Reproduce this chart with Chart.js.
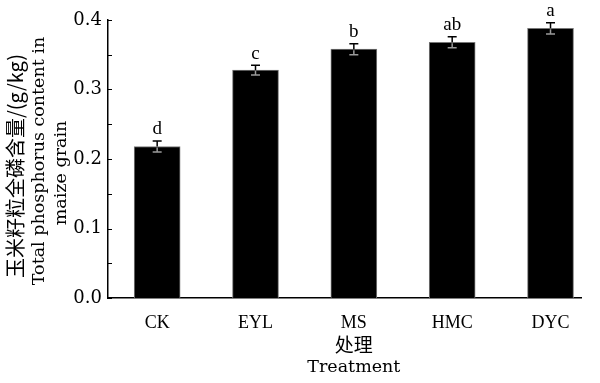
<!DOCTYPE html>
<html>
<head>
<meta charset="utf-8">
<script src="https://cdn.jsdelivr.net/npm/chart.js@4/dist/chart.umd.min.js"></script>
<style>
  html, body { margin: 0; padding: 0; background: #fff; }
  #wrap { width: 600px; height: 383px; }
</style>
</head>
<body>
<div id="wrap"><canvas id="phChart" width="600" height="383"></canvas></div>
<script>
const categories = ['CK', 'EYL', 'MS', 'HMC', 'DYC'];
const phosphorus = [0.218, 0.328, 0.358, 0.368, 0.388];
const errors = [0.008, 0.007, 0.008, 0.008, 0.008];
const letters = ['d', 'c', 'b', 'ab', 'a'];
const yTicks = [0.0, 0.1, 0.2, 0.3, 0.4];

const serif = '"Liberation Serif", "Noto Sans CJK SC", serif';
const wideSerif = '"DejaVu Serif", serif';

// error bars, significance letters, inward ticks and axis titles
const extras = {
  id: 'extras',
  afterDatasetsDraw(chart) {
    const ctx = chart.ctx;
    const x = chart.scales.x, y = chart.scales.y;
    const area = chart.chartArea;
    ctx.save();

    phosphorus.forEach((v, i) => {
      const cx = x.getPixelForValue(i);
      const top = y.getPixelForValue(v + errors[i]);
      const mid = y.getPixelForValue(v);
      const bot = y.getPixelForValue(v - errors[i]);
      ctx.lineWidth = 1.5;
      ctx.strokeStyle = '#000';
      ctx.beginPath();
      ctx.moveTo(cx, top); ctx.lineTo(cx, mid);
      ctx.moveTo(cx - 4.5, top); ctx.lineTo(cx + 4.5, top);
      ctx.stroke();
      ctx.strokeStyle = '#9a9a9a';
      ctx.beginPath();
      ctx.moveTo(cx, mid + 1); ctx.lineTo(cx, bot);
      ctx.moveTo(cx - 4.5, bot); ctx.lineTo(cx + 4.5, bot);
      ctx.stroke();

      ctx.fillStyle = '#000';
      ctx.font = '19px ' + serif;
      ctx.textAlign = 'center';
      ctx.textBaseline = 'bottom';
      ctx.fillText(letters[i], cx, top - 2);
    });

    // inward ticks on y axis, major and minor
    ctx.strokeStyle = '#000';
    ctx.lineWidth = 1;
    for (let k = 0; k <= 8; k++) {
      const py = Math.round(y.getPixelForValue(k * 0.05)) + 0.5;
      ctx.beginPath();
      ctx.moveTo(area.left, py);
      ctx.lineTo(area.left + 4, py);
      ctx.stroke();
    }

    // y title
    ctx.fillStyle = '#000';
    ctx.textAlign = 'center';
    ctx.textBaseline = 'middle';
    ctx.save();
    ctx.translate(15, 166);
    ctx.rotate(-Math.PI / 2);
    ctx.font = '20px "Noto Sans CJK SC", sans-serif';
    ctx.fillText('玉米籽粒全磷含量/(g/kg)', 0, 0);
    ctx.restore();
    ctx.save();
    ctx.translate(39, 161);
    ctx.rotate(-Math.PI / 2);
    ctx.font = '17.5px ' + wideSerif;
    ctx.fillText('Total phosphorus content in', 0, 0);
    ctx.restore();
    ctx.save();
    ctx.translate(61, 173);
    ctx.rotate(-Math.PI / 2);
    ctx.font = '17.5px ' + wideSerif;
    ctx.fillText('maize grain', 0, 0);
    ctx.restore();

    // x title
    const tx = x.getPixelForValue(2);
    ctx.font = '19px "Noto Sans CJK SC", sans-serif';
    ctx.fillText('处理', tx, 345);
    ctx.font = '17.5px ' + wideSerif;
    ctx.fillText('Treatment', tx, 367);

    ctx.restore();
  }
};

new Chart(document.getElementById('phChart'), {
  type: 'bar',
  data: {
    datasets: [{
      data: phosphorus.map((v, i) => ({ x: i, y: v })),
      backgroundColor: '#000',
      borderColor: '#777',
      borderWidth: 1,
      borderSkipped: 'bottom',
      barThickness: 46
    }]
  },
  options: {
    responsive: false,
    animation: false,
    events: [],
    layout: { padding: { top: 20, right: 19, left: 0, bottom: 0 } },
    plugins: { legend: { display: false }, tooltip: { enabled: false } },
    scales: {
      x: {
        type: 'linear',
        offset: false,
        min: -0.5,
        max: 4.31,
        afterBuildTicks: s => { s.ticks = categories.map((c, i) => ({ value: i })); },
        afterFit: s => { s.height = 85; },
        grid: { display: false, drawTicks: false, offset: false },
        border: { display: true, color: '#000', width: 1.5 },
        ticks: {
          color: '#000',
          padding: 14,
          font: { family: serif, size: 18 },
          callback: v => categories[v]
        }
      },
      y: {
        min: 0,
        max: 0.4,
        afterBuildTicks: s => { s.ticks = yTicks.map(v => ({ value: v })); },
        afterFit: s => { s.width = 108; },
        grid: { display: false, drawTicks: false },
        border: { display: true, color: '#000', width: 1.5 },
        ticks: {
          color: '#000',
          padding: 6,
          font: { family: wideSerif, size: 18 },
          callback: v => v.toFixed(1)
        }
      }
    }
  },
  plugins: [extras]
});
</script>
</body>
</html>
